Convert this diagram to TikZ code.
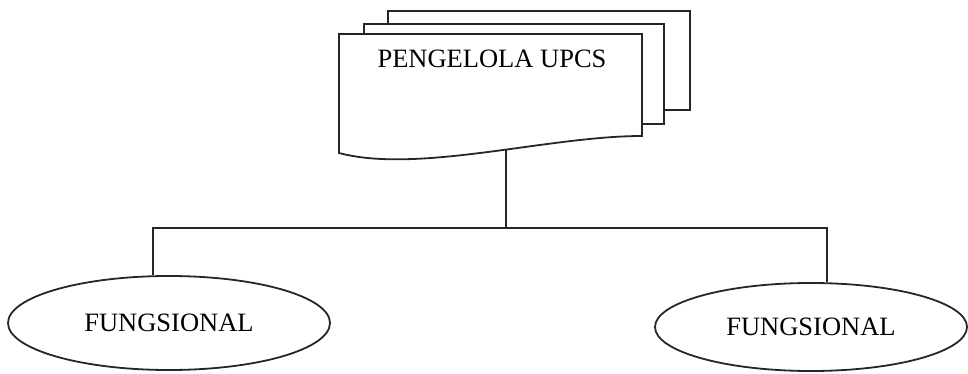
\documentclass[tikz,border=0pt]{standalone}
\usepackage{fontspec}
\setmainfont{Liberation Serif}
\usetikzlibrary{positioning,shapes.geometric}

\begin{document}
\begin{tikzpicture}[x=1pt, y=-1pt,
  line/.style={draw=black!85, line width=1.8pt},
  page/.style={line, fill=white},
  unit/.style={line, ellipse, inner sep=0pt, font=\fontsize{26.5}{30}\selectfont},
  title/.style={font=\fontsize{26.5}{30}\selectfont, inner sep=0pt, anchor=base},
  conn/.style={line, line join=miter}
]
\useasboundingbox (0,0) rectangle (968,374);

% the stack of pages, back to front
\draw[page] (388,11) rectangle (690,110);
\draw[page] (364,24) rectangle (664,124);
\draw[page] (339,153) -- (339,34) -- (642,34) -- (642,136)
  .. controls (548,136) and (418,174) .. cycle;
\node[title] (upcs) at (492,68) {PENGELOLA UPCS};
\coordinate (docfoot) at (506,150);

% the two functional units
\node[unit, minimum width=322pt, minimum height=94pt] (fl) at (169,323) {FUNGSIONAL};
\node[unit, minimum width=312pt, minimum height=88pt] (fr) at (811,327) {FUNGSIONAL};

% connectors
\coordinate (split) at (506,228);
\draw[conn] (docfoot) -- (split);
\draw[conn] (fl.109) |- (split) -| (fr.70);
\end{tikzpicture}
\end{document}
